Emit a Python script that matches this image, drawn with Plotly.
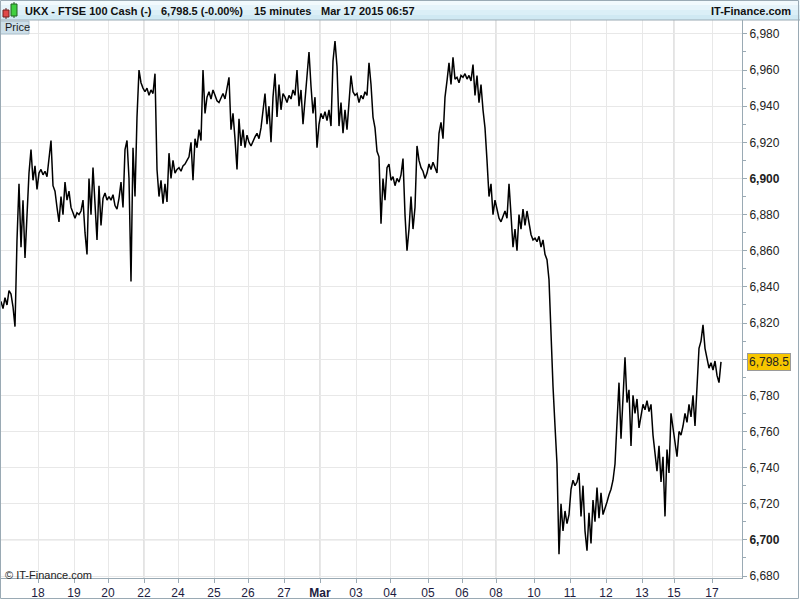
import plotly.graph_objects as go

# ---- data: 15-minute closes per session ----
day_labels = ["17", "18", "19", "20", "22", "24", "25", "26", "27", "Mar",
              "03", "04", "05", "06", "08", "10", "11", "12", "13", "15", "17"]
week_starts = ["22", "Mar", "08", "15"]

feb17 = [6832, 6828, 6834, 6830, 6838, 6836, 6829, 6818, 6866, 6897, 6862, 6888,
         6856, 6880, 6903, 6916, 6899, 6907, 6894]
feb18 = [6903, 6905, 6902, 6904, 6901, 6912, 6921, 6896, 6893, 6884, 6876, 6890,
         6880, 6898, 6888, 6893, 6884, 6881]
feb19 = [6878, 6881, 6880, 6882, 6888, 6870, 6858, 6900, 6880, 6906, 6885, 6866,
         6896, 6874, 6889, 6892, 6888]
feb20 = [6890, 6888, 6891, 6885, 6883, 6889, 6898, 6884, 6916, 6921, 6900, 6843,
         6917, 6890, 6934, 6960, 6953, 6950]
feb22 = [6948, 6950, 6946, 6949, 6947, 6958, 6905, 6890, 6899, 6886, 6897, 6887,
         6914, 6900, 6910, 6903, 6905]
feb24 = [6906, 6904, 6907, 6908, 6910, 6912, 6920, 6899, 6922, 6917, 6927, 6921,
         6960, 6936, 6945, 6948, 6944, 6949]
feb25 = [6946, 6943, 6942, 6945, 6947, 6944, 6950, 6956, 6927, 6936, 6922, 6905,
         6933, 6918, 6927, 6917, 6924]
feb26 = [6920, 6918, 6921, 6923, 6925, 6922, 6928, 6936, 6947, 6930, 6940, 6920,
         6945, 6958, 6934, 6952, 6938, 6947]
feb27 = [6945, 6942, 6946, 6944, 6949, 6946, 6960, 6940, 6949, 6930, 6944, 6955,
         6970, 6951, 6936, 6945, 6917, 6930]
mar02 = [6936, 6933, 6937, 6932, 6938, 6929, 6965, 6976, 6962, 6929, 6942, 6925,
         6938, 6927, 6940, 6957, 6948, 6946]
mar03 = [6947, 6942, 6946, 6944, 6948, 6946, 6964, 6952, 6934, 6928, 6915, 6912,
         6875, 6900, 6888, 6906, 6908]
mar04 = [6899, 6901, 6896, 6900, 6898, 6902, 6911, 6880, 6860, 6872, 6890, 6872,
         6884, 6918, 6910, 6906, 6904, 6900, 6903]
mar05 = [6908, 6905, 6909, 6906, 6903, 6925, 6931, 6922, 6945, 6954, 6964, 6952,
         6967, 6955, 6956, 6953, 6957]
mar06 = [6956, 6958, 6955, 6957, 6954, 6963, 6946, 6957, 6942, 6952, 6938, 6928,
         6910, 6890, 6897, 6880, 6888]
mar08 = [6882, 6878, 6876, 6879, 6882, 6878, 6897, 6880, 6862, 6872, 6860, 6880,
         6872, 6883, 6874, 6882, 6876, 6869, 6866]
mar10 = [6867, 6865, 6868, 6862, 6866, 6858, 6855, 6844, 6809, 6785, 6763, 6742,
         6692, 6720, 6705, 6716, 6709, 6714]
mar11 = [6728, 6733, 6730, 6732, 6737, 6713, 6730, 6705, 6694, 6715, 6698, 6722,
         6710, 6729, 6712, 6726, 6714, 6717]
mar12 = [6721, 6725, 6728, 6733, 6742, 6765, 6787, 6756, 6780, 6801, 6776, 6783,
         6752, 6780, 6770, 6778, 6762, 6768]
mar13 = [6775, 6772, 6777, 6771, 6775, 6758, 6748, 6738, 6752, 6732, 6746, 6713,
         6750, 6737, 6770, 6762]
mar15 = [6755, 6746, 6760, 6758, 6763, 6770, 6765, 6775, 6768, 6780, 6763, 6785,
         6806, 6810, 6819, 6806, 6800, 6795, 6798]
mar17 = [6794, 6799, 6791, 6787, 6798.5]

y_ticks = [6680, 6700, 6720, 6740, 6760, 6780, 6800, 6820, 6840, 6860, 6880,
           6900, 6920, 6940, 6960, 6980]
bold_levels = [6700, 6900]
last_price = 6798.5
hidden_label = 6800  # covered by the last-price tag in the original

sessions = [feb17, feb18, feb19, feb20, feb22, feb24, feb25, feb26, feb27, mar02,
            mar03, mar04, mar05, mar06, mar08, mar10, mar11, mar12, mar13, mar15, mar17]

price = []
day_start = []
for s in sessions:
    day_start.append(len(price))
    price.extend(s)
bars = list(range(len(price)))

tick_pos = [d - 0.5 for d in day_start[1:]]
tick_txt = [("<b>%s</b>" % t if t == "Mar" else t) for t in day_labels[1:]]
y_txt = []
for v in y_ticks:
    if v == hidden_label:
        y_txt.append("")
    elif v in bold_levels:
        y_txt.append("<b>{:,}</b>".format(v))
    else:
        y_txt.append("{:,}".format(v))

# ---- figure ----
W, H = 800, 600
ML, MR, MT, MB = 0, 58, 20, 22
PW, PH = W - ML - MR, H - MT - MB

def px(xp):  # pixel -> paper x
    return (xp - ML) / PW

def py(yp):  # pixel -> paper y
    return (H - MB - yp) / PH

FONT = "Liberation Sans, Arial, sans-serif"

fig = go.Figure()
fig.add_trace(go.Scatter(x=bars, y=price, mode="lines",
                         line=dict(color="#000000", width=1.5),
                         hoverinfo="skip", showlegend=False))

shapes = []
# header gradient
hdr_cols = ["#f2fafd", "#e6f4fa", "#dbeff7", "#d0e9f3"]
for i, c in enumerate(hdr_cols):
    shapes.append(dict(type="rect", xref="paper", yref="paper",
                       x0=px(0), x1=px(W), y0=py(5 * (i + 1)), y1=py(5 * i),
                       fillcolor=c, line=dict(width=0), layer="below"))
shapes.append(dict(type="line", xref="paper", yref="paper", x0=px(0), x1=px(W),
                   y0=py(20), y1=py(20), line=dict(color="#9aaab4", width=1)))
# week-start darker gridlines
for lab, pos in zip(day_labels[1:], tick_pos):
    if lab in week_starts:
        shapes.append(dict(type="line", xref="x", yref="paper", x0=pos, x1=pos,
                           y0=0, y1=1, line=dict(color="#e3e3e3", width=2),
                           layer="below"))
for lv in bold_levels:
    shapes.append(dict(type="line", xref="paper", yref="y", x0=0, x1=1,
                       y0=lv, y1=lv, line=dict(color="#d4d4d4", width=1),
                       layer="below"))
# candlestick icon
shapes += [
    dict(type="line", xref="paper", yref="paper", x0=px(6), x1=px(6), y0=py(19), y1=py(8),
         line=dict(color="#6a2020", width=1)),
    dict(type="rect", xref="paper", yref="paper", x0=px(3), x1=px(9), y0=py(17), y1=py(10),
         fillcolor="#e04848", line=dict(color="#702020", width=1)),
    dict(type="line", xref="paper", yref="paper", x0=px(14), x1=px(14), y0=py(18), y1=py(2),
         line=dict(color="#206020", width=1)),
    dict(type="rect", xref="paper", yref="paper", x0=px(11), x1=px(17), y0=py(16), y1=py(4),
         fillcolor="#40d040", line=dict(color="#206020", width=1)),
]
# Price tab
shapes.append(dict(type="rect", xref="paper", yref="paper", x0=px(0), x1=px(29),
                   y0=py(34), y1=py(21), fillcolor="#cddfe9",
                   line=dict(color="#a8bcc8", width=1)))
# outer frame
shapes.append(dict(type="rect", xref="paper", yref="paper", x0=px(0.5), x1=px(W - 1.5),
                   y0=py(H - 1.5), y1=py(0.5), line=dict(color="#9aaab4", width=1)))

ann = []
hfont = dict(family=FONT, size=11, color="#111111")
for xp, txt in [(23, "UKX - FTSE 100 Cash (-)"), (159, "6,798.5 (-0.00%)"),
                (252, "15 minutes"), (319, "Mar 17 2015 06:57")]:
    ann.append(dict(xref="paper", yref="paper", x=px(xp), y=py(10.5), text="<b>%s</b>" % txt,
                    showarrow=False, xanchor="left", yanchor="middle", font=hfont))
ann.append(dict(xref="paper", yref="paper", x=px(793), y=py(10.5), text="<b>IT-Finance.com</b>",
                showarrow=False, xanchor="right", yanchor="middle", font=hfont))
ann.append(dict(xref="paper", yref="paper", x=px(3), y=py(27.5), text="Price",
                showarrow=False, xanchor="left", yanchor="middle",
                font=dict(family=FONT, size=11, color="#1a1a1a")))
ann.append(dict(xref="paper", yref="paper", x=px(3), y=py(575), text="© IT-Finance.com",
                showarrow=False, xanchor="left", yanchor="middle",
                font=dict(family=FONT, size=11, color="#222222")))
ann.append(dict(xref="paper", yref="y", x=px(747), y=last_price, text="{:,.1f}".format(last_price),
                showarrow=False, xanchor="left", yanchor="middle",
                bgcolor="#f7c600", bordercolor="#9a9a9a", borderwidth=1, borderpad=1,
                font=dict(family=FONT, size=12, color="#222222")))

fig.update_layout(
    width=W, height=H,
    margin=dict(l=ML, r=MR, t=MT, b=MB, pad=0),
    paper_bgcolor="#ffffff", plot_bgcolor="#ffffff",
    shapes=shapes, annotations=ann,
    xaxis=dict(range=[-0.5, 370.5], tickmode="array", tickvals=tick_pos, ticktext=tick_txt,
               showgrid=True, gridcolor="#e8e8e8", gridwidth=1, zeroline=False,
               showline=True, linecolor="#9aaab4", linewidth=1,
               ticks="outside", ticklen=4, tickcolor="#9aaab4",
               tickfont=dict(family=FONT, size=12, color="#1c1c40")),
    yaxis=dict(range=[6678.9, 6987.7], side="right", tickmode="array", tickvals=y_ticks,
               ticktext=y_txt, showgrid=True, gridcolor="#e8e8e8", gridwidth=1, zeroline=False,
               showline=True, linecolor="#9aaab4", linewidth=1,
               ticks="outside", ticklen=4, tickcolor="#9aaab4",
               minor=dict(dtick=10, tick0=6680, ticks="outside", ticklen=3, tickcolor="#9aaab4",
                          showgrid=False),
               tickfont=dict(family=FONT, size=12, color="#222222")),
)

fig.write_html("out.html", config={"displayModeBar": False},
               post_script="document.body.style.margin='0';")
